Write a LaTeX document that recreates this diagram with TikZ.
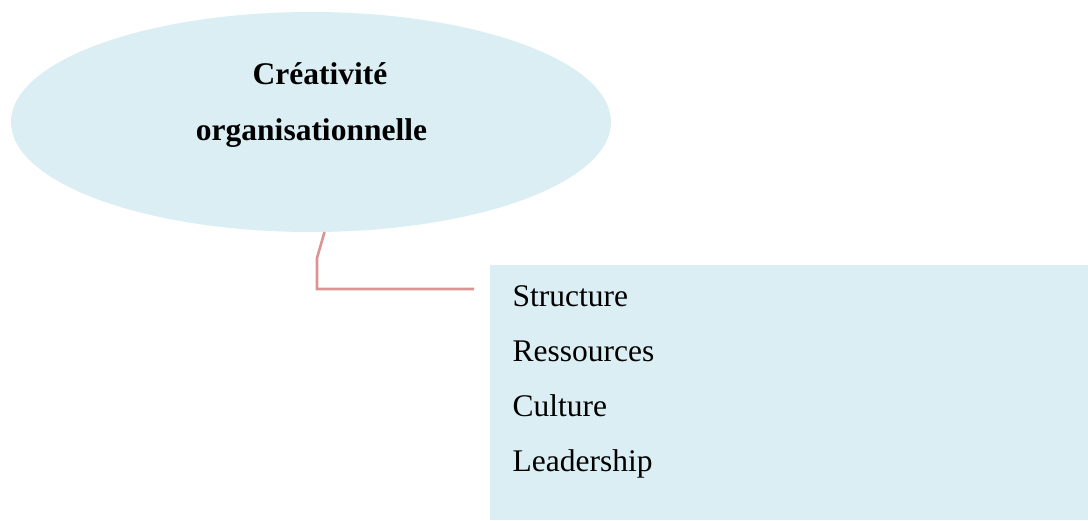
\documentclass[tikz,border=0pt]{standalone}
\usepackage{fontspec}
\setmainfont{Liberation Serif}
\usetikzlibrary{shapes.geometric,positioning}
\definecolor{bleuclair}{HTML}{DAEEF3}
\definecolor{rosetrait}{HTML}{D99594}
\tikzset{every concept/.style={ellipse, fill=bleuclair, minimum width=600pt, minimum height=220pt, inner sep=0pt},
        every titre/.style={font=\fontsize{31.5}{37}\selectfont\bfseries, inner sep=0pt, anchor=base},
        every bloc/.style={fill=bleuclair, minimum width=598pt, minimum height=255pt, inner sep=0pt, anchor=north west},
        every item/.style={font=\fontsize{31.5}{37}\selectfont, inner sep=0pt, anchor=base west},
        lien/.style={draw=rosetrait, line width=2.6pt},
        }

\begin{document}
\begin{tikzpicture}[x=1pt,y=-1pt]
    \useasboundingbox (0,0) rectangle (1088,520);

    \node[every concept] (orga) at (311,122) {};
    \node[every titre] (titre1) at ([xshift=9pt,yshift=38pt]orga.center) {Créativité};
    \node[every titre] (titre2) at ([xshift=0.5pt,yshift=-18pt]orga.center) {organisationnelle};

    \node[every bloc] (facteurs) at (490,265) {};
    \foreach \t [count=\i] in {Structure,Ressources,Culture,Leadership}
        \node[every item] (item\i) at ([xshift=22.5pt,yshift={-41pt-(\i-1)*55.3pt}]facteurs.north west) {\t};

    %lien entre la bulle et le bloc
    \coordinate (coude) at (317,258);
    \coordinate (fin) at (474,289);
    \draw [lien] (orga.-83) -- (coude) |- (fin);

\end{tikzpicture}
\end{document}
